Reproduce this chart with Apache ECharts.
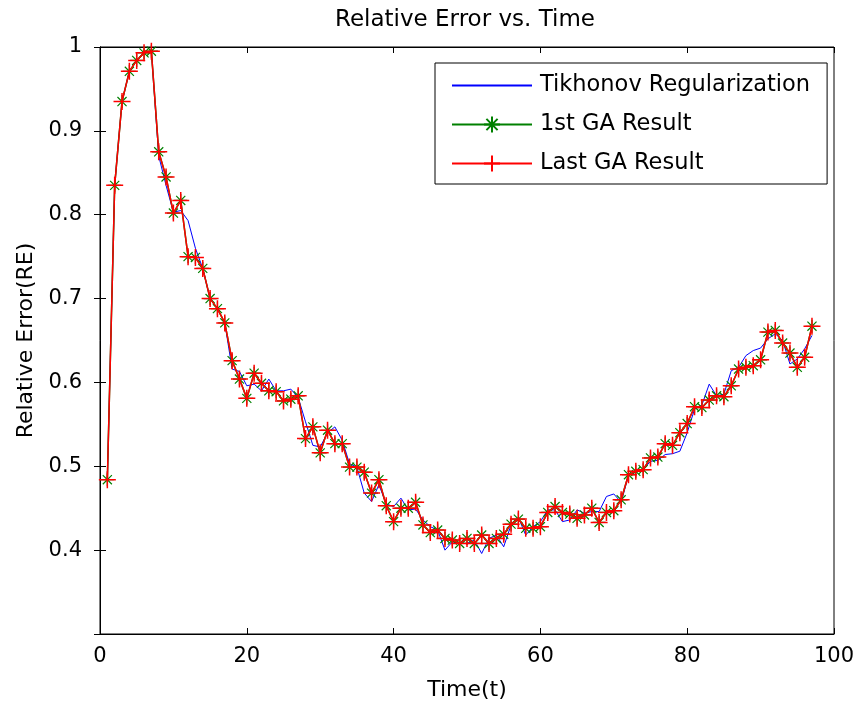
<!DOCTYPE html>
<html>
<head>
<meta charset="utf-8">
<script src="https://cdn.jsdelivr.net/npm/echarts@6/dist/echarts.min.js"></script>
<style>
html,body{margin:0;padding:0;background:#fff;}
#chart{width:861px;height:709px;}
</style>
</head>
<body>
<div id="chart"></div>
<script>
// Time steps
var timeSteps = [];
for (var i = 1; i <= 97; i++) timeSteps.push(i);

// Tikhonov Regularization (blue)
var tikhonovValues = [
0.484,0.835,0.935,0.971,0.984,0.993,0.995,0.870,0.835,0.803,
0.805,0.793,0.760,0.736,0.700,0.688,0.671,0.616,0.613,0.596,
0.598,0.590,0.604,0.590,0.590,0.592,0.582,0.553,0.525,0.523,
0.540,0.547,0.531,0.503,0.499,0.468,0.458,0.478,0.455,0.452,
0.462,0.448,0.449,0.436,0.428,0.424,0.400,0.410,0.408,0.408,
0.412,0.396,0.414,0.418,0.404,0.430,0.439,0.418,0.428,0.434,
0.448,0.448,0.434,0.436,0.448,0.444,0.446,0.446,0.464,0.467,
0.457,0.489,0.494,0.496,0.506,0.507,0.514,0.515,0.518,0.540,
0.568,0.573,0.598,0.584,0.586,0.614,0.618,0.632,0.638,0.641,
0.652,0.658,0.650,0.622,0.628,0.640,0.656];

// 1st GA Result (green)
var firstGAValues = [
0.484,0.835,0.935,0.971,0.984,0.993,0.995,0.875,0.845,0.802,
0.817,0.750,0.749,0.736,0.700,0.688,0.671,0.626,0.604,0.581,
0.611,0.599,0.590,0.589,0.578,0.580,0.584,0.533,0.547,0.516,
0.543,0.527,0.527,0.499,0.499,0.493,0.468,0.484,0.453,0.434,
0.450,0.450,0.457,0.430,0.421,0.424,0.414,0.412,0.408,0.414,
0.408,0.418,0.408,0.414,0.419,0.431,0.437,0.426,0.426,0.428,
0.445,0.452,0.445,0.443,0.438,0.442,0.450,0.433,0.445,0.447,
0.460,0.490,0.494,0.496,0.510,0.511,0.527,0.525,0.540,0.551,
0.571,0.570,0.579,0.584,0.583,0.596,0.616,0.618,0.620,0.627,
0.660,0.662,0.647,0.635,0.618,0.630,0.667];

// Last GA Result (red)
var lastGAValues = [
0.484,0.835,0.935,0.971,0.984,0.993,0.995,0.875,0.845,0.802,
0.817,0.750,0.749,0.736,0.700,0.688,0.671,0.626,0.604,0.581,
0.611,0.599,0.590,0.589,0.578,0.580,0.584,0.533,0.547,0.516,
0.543,0.527,0.527,0.499,0.499,0.493,0.468,0.484,0.453,0.434,
0.450,0.450,0.457,0.430,0.421,0.424,0.414,0.412,0.408,0.414,
0.408,0.418,0.408,0.414,0.419,0.431,0.437,0.426,0.426,0.428,
0.445,0.452,0.445,0.443,0.438,0.442,0.450,0.433,0.445,0.447,
0.460,0.490,0.494,0.496,0.510,0.511,0.527,0.525,0.540,0.551,
0.571,0.570,0.579,0.584,0.583,0.596,0.616,0.618,0.620,0.627,
0.660,0.662,0.647,0.635,0.618,0.630,0.667];

var seriesNames = ['Tikhonov Regularization', '1st GA Result', 'Last GA Result'];
var xTicks = [0, 20, 40, 60, 80, 100];
var yTicks = [0.4, 0.5, 0.6, 0.7, 0.8, 0.9, 1];

function pairs(vals) {
  return timeSteps.map(function (t, i) { return [t, vals[i]]; });
}

var FONT = 'DejaVu Sans';
var chart = echarts.init(document.getElementById('chart'), null, {renderer: 'canvas'});

var starPath = 'path://M10,0L10,20M0,10L20,10M3,3L17,17M3,17L17,3';
var plusPath = 'path://M10,0L10,20M0,10L20,10';

function fmtY(v) {
  var r = Math.round(v * 10) / 10;
  if (yTicks.indexOf(r) < 0) return '';
  return String(r);
}

var option = {
  animation: false,
  backgroundColor: '#fff',
  title: {
    text: 'Relative Error vs. Time',
    left: 330, top: 4,
    textStyle: {fontFamily: FONT, fontSize: 23, fontWeight: 'normal', color: '#000'}
  },
  grid: {left: 100, right: 27, top: 47, bottom: 75, show: true, borderColor: '#000', borderWidth: 1, backgroundColor: '#fff'},
  legend: {
    left: 435, top: 63, orient: 'vertical',
    backgroundColor: '#fff', borderColor: '#000', borderWidth: 1, borderRadius: 0,
    padding: [11, 17, 9, 16],
    itemWidth: 80, itemHeight: 20, itemGap: 16,
    textStyle: {fontFamily: FONT, fontSize: 22.5, color: '#000', padding: [0, 0, 0, 3]},
    data: seriesNames
  },
  xAxis: [{
    type: 'value', min: 0, max: 100, interval: 20,
    name: 'Time(t)', nameLocation: 'middle', nameGap: 45,
    nameTextStyle: {fontFamily: FONT, fontSize: 22, color: '#000'},
    axisLine: {lineStyle: {color: '#000', width: 1}},
    axisTick: {inside: true, length: 6, lineStyle: {color: '#000'}},
    axisLabel: {fontFamily: FONT, fontSize: 21, color: '#000', margin: 12,
      formatter: function (v) { return xTicks.indexOf(v) >= 0 ? String(v) : ''; }},
    splitLine: {show: false}
  }, {
    type: 'value', min: 0, max: 100, interval: 20, position: 'top',
    axisLine: {lineStyle: {color: '#000'}},
    axisTick: {inside: true, length: 6, lineStyle: {color: '#000'}},
    axisLabel: {show: false}, splitLine: {show: false}
  }],
  yAxis: [{
    type: 'value', min: 0.3, max: 1, interval: 0.1,
    name: 'Relative Error(RE)', nameLocation: 'middle', nameGap: 57, nameRotate: 90,
    nameTextStyle: {fontFamily: FONT, fontSize: 22, color: '#000'},
    axisLine: {show: true, lineStyle: {color: '#000', width: 1}},
    axisTick: {show: true, inside: true, length: 6, lineStyle: {color: '#000'}},
    axisLabel: {fontFamily: FONT, fontSize: 21, color: '#000', margin: 18, formatter: fmtY},
    splitLine: {show: false}
  }, {
    type: 'value', min: 0.3, max: 1, interval: 0.1, position: 'right',
    axisLine: {show: true, lineStyle: {color: '#000'}},
    axisTick: {show: true, inside: true, length: 6, lineStyle: {color: '#000'}},
    axisLabel: {show: false}, splitLine: {show: false}
  }],
  series: [{
    name: seriesNames[0], type: 'line', data: pairs(tikhonovValues),
    symbol: 'circle', showSymbol: false,
    lineStyle: {color: '#0000ff', width: 1},
    itemStyle: {color: 'rgba(0,0,0,0)', borderWidth: 0, opacity: 0},
    emphasis: {disabled: true}, z: 2
  }, {
    name: seriesNames[1], type: 'line', data: pairs(firstGAValues),
    symbol: starPath, symbolSize: 13, showAllSymbol: true,
    lineStyle: {color: '#008000', width: 1.5},
    itemStyle: {color: '#008000', borderColor: '#008000', borderWidth: 1.2},
    emphasis: {disabled: true}, z: 3
  }, {
    name: seriesNames[2], type: 'line', data: pairs(lastGAValues),
    symbol: plusPath, symbolSize: 17, showAllSymbol: true,
    lineStyle: {color: '#ff0000', width: 1.5},
    itemStyle: {color: '#ff0000', borderColor: '#ff0000', borderWidth: 1.5},
    emphasis: {disabled: true}, z: 4
  }]
};
chart.setOption(option);
</script>
</body>
</html>
